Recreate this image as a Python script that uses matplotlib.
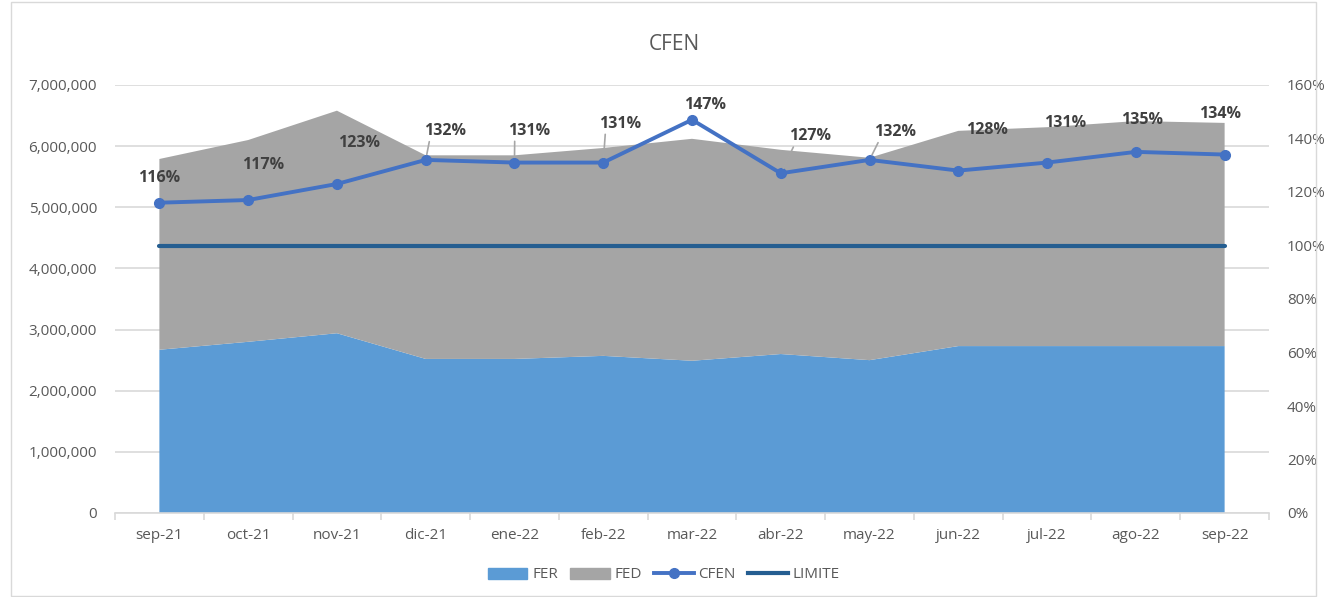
import numpy as np
import matplotlib.pyplot as plt
from matplotlib.patches import Patch, Rectangle
from matplotlib.lines import Line2D
from matplotlib.ticker import FuncFormatter, MultipleLocator

plt.rcParams['font.family'] = ['Open Sans', 'DejaVu Sans']

# datos
meses = ['sep-21', 'oct-21', 'nov-21', 'dic-21', 'ene-22', 'feb-22', 'mar-22',
         'abr-22', 'may-22', 'jun-22', 'jul-22', 'ago-22', 'sep-22']
fer = [2670000, 2800000, 2940000, 2520000, 2520000, 2570000, 2490000,
       2600000, 2500000, 2730000, 2730000, 2730000, 2730000]
fed = [3120000, 3300000, 3640000, 3330000, 3330000, 3400000, 3630000,
       3340000, 3310000, 3520000, 3580000, 3680000, 3650000]
cfen = [1.16, 1.17, 1.23, 1.32, 1.31, 1.31, 1.47, 1.27, 1.32, 1.28, 1.31, 1.35, 1.34]
limite = [1.0] * len(meses)

# posicion de etiquetas (desplazamiento en px) y si llevan linea guia
offsets = [(0, 25), (15, 35), (22, 41), (19, 29), (15, 32), (17, 39), (13, 15),
           (29, 37), (25, 28), (29, 41), (18, 40), (6, 32), (-5, 41)]
guia = [False, False, False, True, True, True, False, True, True, False, False, False, False]

x = np.arange(len(meses))
tick_color = '#595959'
grid_color = '#D9D9D9'

fig = plt.figure(figsize=(13.27, 5.97), dpi=100)
fig.patches.append(Rectangle((11 / 1327, 0.002), 1 - 22 / 1327, 0.994,
                             transform=fig.transFigure, fill=False,
                             edgecolor='#D9D9D9', lw=1))
ax = fig.add_axes([115 / 1327, 84 / 597, 1154 / 1327, 428 / 597])

# areas apiladas
ax.stackplot(x, fer, fed, colors=['#5B9BD5', '#A5A5A5'], zorder=2)
ax.set_xlim(-0.5, len(meses) - 0.5)
ax.set_ylim(0, 7000000)
ax.yaxis.set_major_locator(MultipleLocator(1000000))
ax.yaxis.set_major_formatter(FuncFormatter(lambda v, p: f'{int(v):,}'))
ax.grid(axis='y', color=grid_color, lw=1.2)
ax.set_axisbelow(True)

ax.set_xticks(x)
ax.set_xticklabels(meses)
ax.set_xticks(np.arange(-0.5, len(meses)), minor=True)
ax.tick_params(axis='x', which='major', length=0, pad=11, labelsize=11, labelcolor=tick_color)
ax.tick_params(axis='x', which='minor', length=5, color=grid_color, width=1.2)
ax.tick_params(axis='y', length=0, pad=13, labelsize=11, labelcolor=tick_color)
for s in ['top', 'right', 'left']:
    ax.spines[s].set_visible(False)
ax.spines['bottom'].set_color(grid_color)
ax.spines['bottom'].set_linewidth(1.2)

# eje derecho
ax2 = ax.twinx()
ax2.plot(x, limite, color='#255E91', lw=3, solid_capstyle='round', zorder=3)
ax2.plot(x, cfen, color='#4472C4', lw=2.8, marker='o', markersize=7, zorder=4)
ax2.set_ylim(0, 1.6)
ax2.yaxis.set_major_locator(MultipleLocator(0.2))
ax2.yaxis.set_major_formatter(FuncFormatter(lambda v, p: f'{v * 100:.0f}%'))
ax2.tick_params(axis='y', length=0, pad=13, labelsize=11, labelcolor=tick_color)
for s in ax2.spines.values():
    s.set_visible(False)

# etiquetas de datos
for i, v in enumerate(cfen):
    dx, dy = offsets[i]
    props = None
    if guia[i]:
        props = dict(arrowstyle='-', color='#A6A6A6', lw=1.2, shrinkA=0, shrinkB=4,
                     relpos=(0.15, 0.05))
    ax2.annotate(f'{v * 100:.0f}%', xy=(x[i], v), xytext=(dx * 0.72, dy * 0.72),
                 textcoords='offset points', ha='center', va='center',
                 fontsize=11.5, fontweight='bold', color='#404040',
                 arrowprops=props, zorder=5)

fig.text(674 / 1327, 1 - 45 / 597, 'CFEN', ha='center', va='center',
         fontsize=15, color='#595959')

handles = [Patch(color='#5B9BD5', label='FER'),
           Patch(color='#A5A5A5', label='FED'),
           Line2D([], [], color='#4472C4', lw=2.8, marker='o', markersize=7, label='CFEN'),
           Line2D([], [], color='#255E91', lw=3, label='LIMITE')]
leg = fig.legend(handles=handles, loc='center', bbox_to_anchor=(0.5, 1 - 575 / 597),
                 ncol=4, frameon=False, fontsize=11, handlelength=2.6,
                 columnspacing=0.8, handletextpad=0.3)
for t in leg.get_texts():
    t.set_color(tick_color)

fig.savefig('out.png', dpi=100)
